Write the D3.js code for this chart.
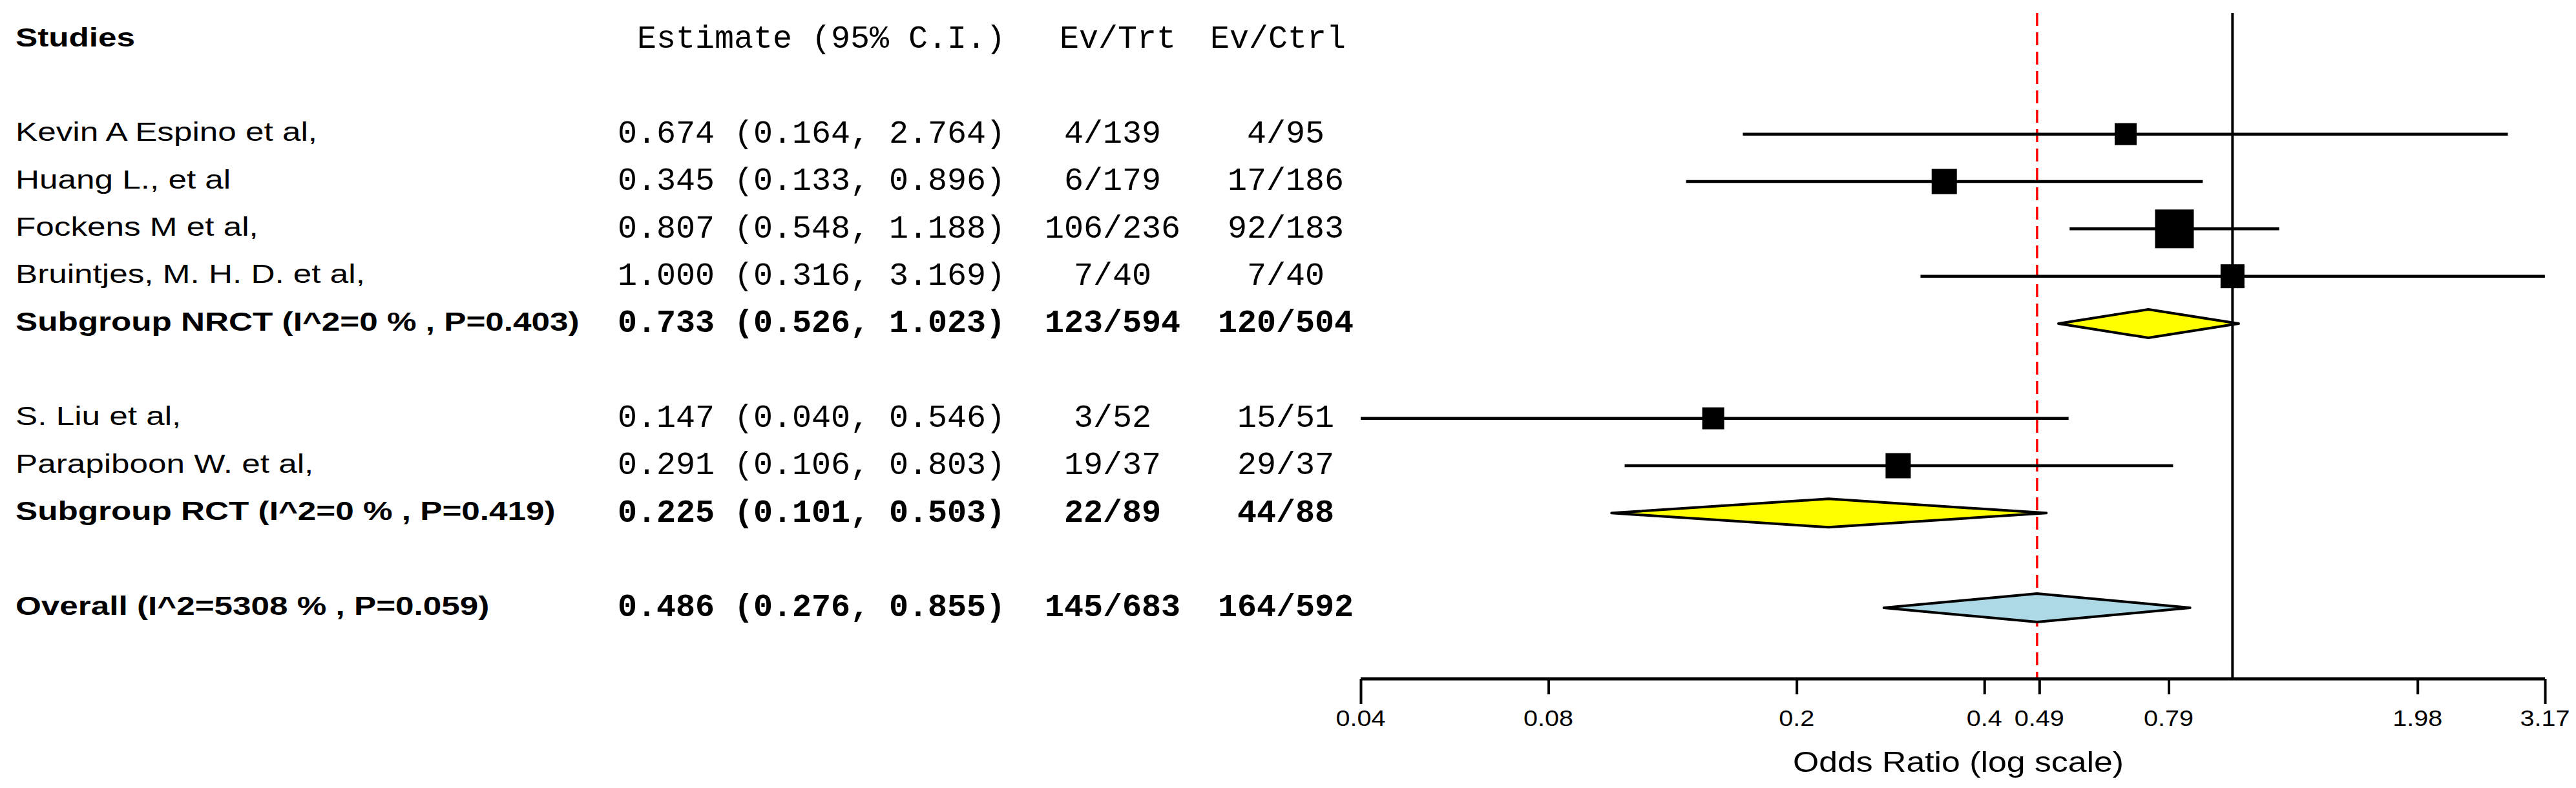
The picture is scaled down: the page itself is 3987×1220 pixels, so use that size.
<!DOCTYPE html>
<html><head><meta charset="utf-8">
<script src="https://cdn.jsdelivr.net/npm/d3@7"></script>
<style>body{margin:0;background:#fff}</style></head>
<body><svg id="c" width="3987" height="1220"></svg>
<script>
const studies = ["Kevin A Espino et al,","Huang L., et al","Fockens M et al,","Bruintjes, M. H. D. et al,","Subgroup NRCT (I^2=0 % , P=0.403)","S. Liu et al,","Parapiboon W. et al,","Subgroup RCT (I^2=0 % , P=0.419)","Overall (I^2=5308 % , P=0.059)"];
const rowIndex = [2,3,4,5,6,8,9,10,12];
const kinds = ["study","study","study","study","sub","study","study","sub","overall"];
const est = [0.674,0.345,0.807,1.000,0.733,0.147,0.291,0.225,0.486];
const lower = [0.164,0.133,0.548,0.316,0.526,0.040,0.106,0.101,0.276];
const upper = [2.764,0.896,1.188,3.169,1.023,0.546,0.803,0.503,0.855];
const evTrt = ["4/139","6/179","106/236","7/40","123/594","3/52","19/37","22/89","145/683"];
const evCtrl = ["4/95","17/186","92/183","7/40","120/504","15/51","29/37","44/88","164/592"];
const boxSize = [34,39,60,37,null,34,39,null,null];
const tickVals = [0.04,0.08,0.2,0.4,0.49,0.79,1.98,3.17];
const overallEst = 0.486;

const svg = d3.select("#c");
const x = d3.scaleLog().domain([0.04,3.17]).range([2106,3939]);
const y = d3.scaleLinear().domain([0,12]).range([61,941]);
const sans = "'Liberation Sans', Arial, sans-serif";
const mono = "'Liberation Mono', 'Courier New', monospace";
const fmt = d3.format(".3f");

function stext(t, px, py, opt){
  const sx = opt.sx||1.25;
  svg.append("text").attr("transform",`translate(${px},${py}) scale(${sx},1)`)
    .attr("font-family",opt.ff||sans).attr("font-size",opt.fs||41)
    .attr("font-weight",opt.fw||"normal").attr("text-anchor",opt.anchor||"start")
    .attr("dominant-baseline","middle").text(t);
}
// headers
stext("Studies",24,y(0),{fw:"bold"});
stext("Estimate (95% C.I.)",1556,y(0),{ff:mono,fs:50,sx:1,anchor:"end"});
stext("Ev/Trt",1820,y(0),{ff:mono,fs:50,sx:1,anchor:"end"});
stext("Ev/Ctrl",2083,y(0),{ff:mono,fs:50,sx:1,anchor:"end"});

studies.forEach((s,i)=>{
  const yy = y(rowIndex[i]);
  const b = kinds[i]!=="study" ? "bold":"normal";
  stext(s,24,yy,{fw:b});
  stext(`${fmt(est[i])} (${fmt(lower[i])}, ${fmt(upper[i])})`,1556,yy,{ff:mono,fs:50,sx:1,anchor:"end",fw:b});
  stext(evTrt[i],1722,yy,{ff:mono,fs:50,sx:1,anchor:"middle",fw:b});
  stext(evCtrl[i],1990,yy,{ff:mono,fs:50,sx:1,anchor:"middle",fw:b});
});

const axisY = 1051;
// reference lines
svg.append("line").attr("x1",x(1)).attr("x2",x(1)).attr("y1",20).attr("y2",axisY)
  .attr("stroke","#000").attr("stroke-width",4);
svg.append("line").attr("x1",x(overallEst)).attr("x2",x(overallEst)).attr("y1",20).attr("y2",axisY)
  .attr("stroke","#ff0000").attr("stroke-width",3.5).attr("stroke-dasharray","20,10");

// marks
studies.forEach((s,i)=>{
  const yy = y(rowIndex[i]);
  if(kinds[i]==="study"){
    svg.append("line").attr("x1",x(lower[i])).attr("x2",x(upper[i])).attr("y1",yy).attr("y2",yy)
      .attr("stroke","#000").attr("stroke-width",4.5);
    const b = boxSize[i];
    svg.append("rect").attr("x",x(est[i])-b/2).attr("y",yy-b/2).attr("width",b).attr("height",b).attr("fill","#000");
  } else {
    const h = 22;
    const pts = [[x(lower[i]),yy],[x(est[i]),yy-h],[x(upper[i]),yy],[x(est[i]),yy+h]];
    svg.append("polygon").attr("points",pts.map(p=>p.join(",")).join(" "))
      .attr("fill",kinds[i]==="sub"?"#ffff00":"#add8e6").attr("stroke","#000").attr("stroke-width",4)
      .attr("stroke-linejoin","round");
  }
});

// axis
const ax = svg.append("g").attr("transform",`translate(0,${axisY})`)
  .call(d3.axisBottom(x).tickValues(tickVals).tickFormat(d=>String(d)).tickSize(24).tickSizeOuter(0));
ax.select(".domain").attr("stroke-width",5).attr("d",`M${x(0.04)},0H${x(3.17)}`);
ax.selectAll(".tick line").attr("stroke-width",4).attr("y2",(d,i)=> (i===0||i===tickVals.length-1)?39:24);
ax.selectAll(".tick text").remove();
tickVals.forEach(v=>stext(String(v),x(v),1114,{fs:36,anchor:"middle",sx:1.1}));
stext("Odds Ratio (log scale)",3031,1183,{fs:45,anchor:"middle",sx:1.15});
</script></body></html>
